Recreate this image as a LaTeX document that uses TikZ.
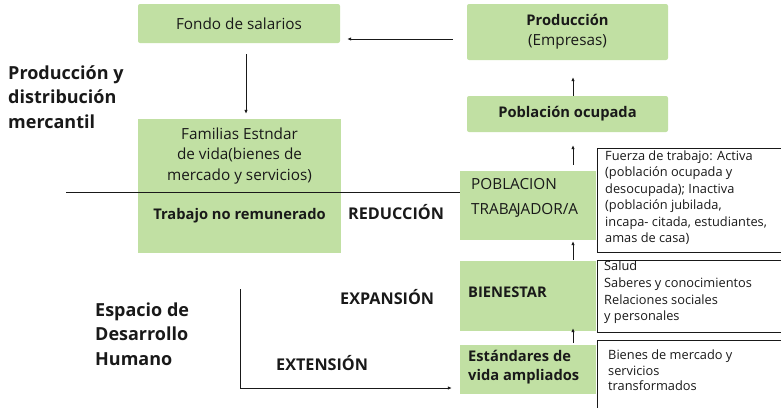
\documentclass[tikz,border=0pt]{standalone}
\usepackage{fontspec}
\setmainfont{Open Sans}
\usetikzlibrary{arrows.meta,calc}
\definecolor{boxgreen}{RGB}{193,224,163}
\definecolor{inkc}{RGB}{25,25,25}
\begin{document}
\begin{tikzpicture}[x=1pt,y=-1pt,
  gbox/.style={fill=boxgreen, draw=none, rounded corners=2pt, inner sep=0pt, text=inkc},
  sqbox/.style={fill=boxgreen, draw=none, inner sep=0pt},
  arr/.style={draw=inkc, line width=0.9pt, -{Latex[length=4pt,width=3.5pt]}},
  plain/.style={draw=inkc, line width=0.9pt},
  obox/.style={draw=inkc, line width=0.9pt},
  ttl/.style={font=\fontsize{18}{24.5}\selectfont\bfseries, align=left, inner sep=0pt, text=inkc},
  lbl/.style={font=\fontsize{16.2}{20}\selectfont\bfseries, inner sep=0pt, text=inkc},
  blbl/.style={font=\fontsize{14.7}{18.5}\selectfont\bfseries, inner sep=0pt, text=inkc},
  reg/.style={font=\fontsize{15.3}{20}\selectfont, inner sep=0pt, text=inkc},
  small/.style={font=\fontsize{12.8}{16.4}\selectfont, align=left, inner sep=0pt, text=inkc, anchor=north west},
]
\useasboundingbox (0,0) rectangle (781,407);

% green boxes
\node[gbox, minimum width=202pt, minimum height=39pt, reg] (fondo) at (239,23.5) {Fondo de salarios};
\node[gbox, minimum width=201pt, minimum height=56pt, align=center, reg] (prod) at (567.5,32)
  {{\fontsize{14.7}{20}\selectfont\bfseries Producción}\\(Empresas)};
\node[gbox, minimum width=201pt, minimum height=36pt, blbl] (pocup) at (567.5,114) {Población ocupada};
\node[sqbox, minimum width=203pt, minimum height=134pt] (fam) at (239.5,186) {};
\node[sqbox, minimum width=136pt, minimum height=69pt] (pobl) at (528,205.5) {};
\node[sqbox, minimum width=136pt, minimum height=70pt] (bien) at (528,296) {};
\node[sqbox, minimum width=136pt, minimum height=49pt] (est) at (528,369.5) {};

% texts inside
\node[reg, font=\fontsize{15.3}{20.8}\selectfont, align=center] (famt) at (239.5,156)
  {Familias Estndar\\de vida(bienes de\\mercado y servicios)};
\node[blbl] (trab) at (239.5,216) {Trabajo no remunerado};
\node[reg, font=\fontsize{15.3}{25}\selectfont, align=left, anchor=west] (poblt) at (471,197.5)
  {POBLACION\\TRABA\kern-1.6pt JADOR/A};
\node[blbl, anchor=west] (bient) at (468,292) {BIENESTAR};
\node[blbl, align=left, anchor=west] (estt) at (468,367)
  {Estándares de\\vida ampliados};

% outlined side boxes (open to the right edge)
\draw[obox] (781,148) -- (597,148) -- (597,252) -- (781,252);
\node[small] (fuerza) at (605,150.5) {Fuerza de trabajo: Activa\\(población ocupada y\\desocupada); Inactiva\\(población jubilada,\\incapa- citada, estudiantes,\\amas de casa)};
\draw[obox] (781,260) -- (597,260) -- (597,332) -- (781,332);
\node[small, font=\fontsize{12.8}{16.8}\selectfont] (salud) at (604,260.5) {Salud\\Saberes y conocimientos\\Relaciones sociales\\y personales};
\draw[obox] (781,340) -- (597,340) -- (597,410);
\node[small, font=\fontsize{12.8}{15.6}\selectfont] (bienes) at (608,349.5) {Bienes de mercado y\\servicios\\transformados};

% titles
\node[ttl, anchor=west] (t1) at (8,97) {Producción y\\distribución\\mercantil};
\node[ttl, anchor=west] (t2) at (95,334) {Espacio de\\Desarrollo\\Humano};
\node[lbl, anchor=west] (red) at (348,212) {REDUCCIÓN};
\node[lbl, anchor=west] (exp) at (340,297) {EXPANSIÓN};
\node[lbl, anchor=west] (ext) at (276,363) {EXTENSIÓN};

% connectors
\coordinate (a1s) at ($(prod.west)+(-14,7)$);
\coordinate (a1e) at ($(fondo.east)+(7,15.5)$);
\draw[arr] (a1s) -- (a1e);
\draw[arr] ($(fondo.south)+(7,11)$) -- ($(fam.north)+(6.5,-5)$);
\draw[arr] ($(pocup.north)+(5.5,0)$) -- ($(prod.south)+(5.5,17)$);
\draw[arr] ($(pobl.north)+(45,-6)$) -- ($(pocup.south)+(5.5,13)$);
\draw[arr] ($(bien.north)+(45,-1)$) -- ($(pobl.south)+(45,1)$);
\draw[arr] ($(est.north)+(45,-2)$) -- ($(bien.south)+(45,-3)$);
\coordinate (hl) at (66,192);
\draw[plain] (hl) -- (pobl.west |- hl);
\coordinate (ls) at (240,289);
\coordinate (lc) at (240,388);
\coordinate (le) at ($(est.west)+(-8,18.5)$);
\draw[arr] (ls) -- (lc) -- (le);
\end{tikzpicture}
\end{document}
